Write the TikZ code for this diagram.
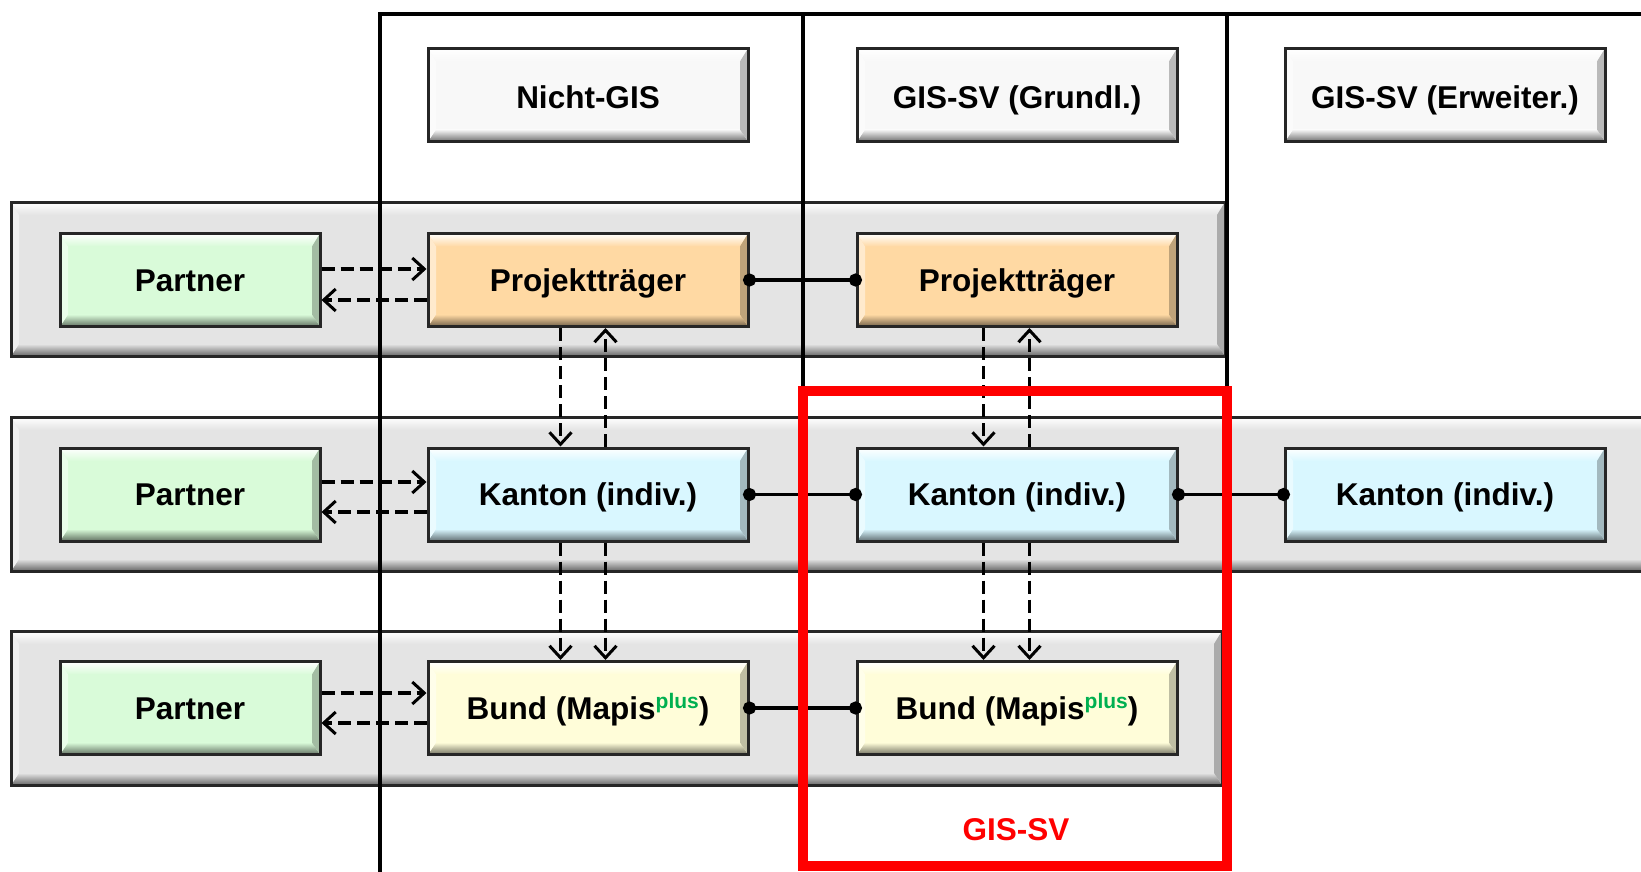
\documentclass[tikz,border=0pt]{standalone}
\usepackage{fontspec}
\setmainfont{Liberation Sans}
\usetikzlibrary{arrows.meta,calc}
\definecolor{hdr}{HTML}{F8F8F8}
\definecolor{bandc}{HTML}{E4E4E4}
\definecolor{partc}{HTML}{D9FBD9}
\definecolor{projc}{HTML}{FFD9A3}
\definecolor{kantc}{HTML}{D9F7FF}
\definecolor{bundc}{HTML}{FFFDD9}
\definecolor{plusg}{HTML}{00B050}
\definecolor{redc}{HTML}{FF0000}
\tikzset{
  bev/.style={fill=#1, draw=black!85, line width=3pt, path picture={
    \coordinate (bSW) at (path picture bounding box.south west);
    \coordinate (bNE) at (path picture bounding box.north east);
    \coordinate (bNW) at (bSW|-bNE);
    \coordinate (bSE) at (bNE|-bSW);
    \shade[top color=white, bottom color=#1] (bNW) -- (bNE) -- ([shift={(-8pt,-13pt)}]bNE) -- ([shift={(8pt,-13pt)}]bNW) -- cycle;
    \shade[top color=#1, bottom color=#1!45!black] (bSW) -- (bSE) -- ([shift={(-8pt,12pt)}]bSE) -- ([shift={(8pt,12pt)}]bSW) -- cycle;
    \fill[#1!55!white] (bSW) -- (bNW) -- ([shift={(8pt,-13pt)}]bNW) -- ([shift={(8pt,12pt)}]bSW) -- cycle;
    \fill[#1!75!black] (bSE) -- (bNE) -- ([shift={(-8pt,-13pt)}]bNE) -- ([shift={(-8pt,12pt)}]bSE) -- cycle;
  }},
  box/.style={bev=#1, minimum width=320pt, minimum height=93pt, inner sep=0pt,
    text height=22.5pt, text depth=0pt,
    font=\bfseries\fontsize{31.5}{36}\selectfont, text=black},
  hbox/.style={box=hdr, text height=27.5pt},
  pbox/.style={box=partc, minimum width=260pt},
  band/.style={bev=bandc, minimum height=154pt, inner sep=0pt},
  colline/.style={line width=4.5pt, black, line cap=rect},
  darr/.style={line width=3.2pt, dash pattern=on 13pt off 6pt, -{Straight Barb[length=12pt,width=22pt,line width=3pt]}},
  dotc/.style={line width=3.5pt, {Circle[length=13pt]}-{Circle[length=13pt]}, shorten <=-6.5pt, shorten >=-6.5pt},
}
\newcommand{\plussup}{\raisebox{11pt}{\fontsize{21}{21}\selectfont\color{plusg}plus}}
\begin{document}
\begin{tikzpicture}[x=1pt,y=1pt]
\useasboundingbox (0,0) rectangle (1641,-872);
% bands
\node[band, minimum width=1214pt] (b1) at (618,-279) {};
\node[band, minimum width=1640pt] (b2) at (831,-494) {};
\node[band, minimum width=1211pt] (b3) at (616.5,-708) {};
% column frame
\draw[colline] (380,-14) -- (1650,-14);
\draw[colline] (380,-14) -- (380,-880);
\draw[colline] (803,-14) -- (803,-391);
\draw[colline] (1227,-14) -- (1227,-391);
% header boxes
\node[hbox] (h1) at (588,-95) {Nicht-GIS};
\node[hbox] (h2) at (1017,-95) {GIS-SV (Grundl.)};
\node[hbox] (h3) at (1445,-95) {GIS-SV (Erweiter.)};
% row 1
\node[pbox] (pa1) at (190,-280) {Partner};
\node[box=projc] (p1) at (588,-280) {Projektträger};
\node[box=projc] (p2) at (1017,-280) {Projektträger};
% row 2
\node[pbox] (pa2) at (190,-494.5) {Partner};
\node[box=kantc] (k1) at (588,-494.5) {Kanton (indiv.)};
\node[box=kantc] (k2) at (1017,-494.5) {Kanton (indiv.)};
\node[box=kantc] (k3) at (1445,-494.5) {Kanton (indiv.)};
% row 3
\node[pbox] (pa3) at (190,-708) {Partner};
\node[box=bundc] (u1) at (588,-708) {Bund (Mapis\plussup)};
\node[box=bundc] (u2) at (1017,-708) {Bund (Mapis\plussup)};
% partner arrows
\draw[darr] ([yshift=11pt]pa1.east) -- ([yshift=11pt]p1.west);
\draw[darr] ([yshift=-20pt]p1.west) -- ([yshift=-20pt]pa1.east);
\draw[darr] ([yshift=12.5pt]pa2.east) -- ([yshift=12.5pt]k1.west);
\draw[darr] ([yshift=-17.5pt]k1.west) -- ([yshift=-17.5pt]pa2.east);
\draw[darr] ([yshift=15pt]pa3.east) -- ([yshift=15pt]u1.west);
\draw[darr] ([yshift=-15pt]u1.west) -- ([yshift=-15pt]pa3.east);
% vertical arrows column 1
\draw[darr] ([xshift=-27.5pt]p1.south) -- ([xshift=-27.5pt]k1.north);
\draw[darr] ([xshift=17.5pt]k1.north) -- ([xshift=17.5pt]p1.south);
\draw[darr] ([xshift=-27.5pt]k1.south) -- ([xshift=-27.5pt]u1.north);
\draw[darr] ([xshift=17.5pt]k1.south) -- ([xshift=17.5pt]u1.north);
% vertical arrows column 2
\draw[darr] ([xshift=-33.5pt]p2.south) -- ([xshift=-33.5pt]k2.north);
\draw[darr] ([xshift=12.5pt]k2.north) -- ([xshift=12.5pt]p2.south);
\draw[darr] ([xshift=-33.5pt]k2.south) -- ([xshift=-33.5pt]u2.north);
\draw[darr] ([xshift=12.5pt]k2.south) -- ([xshift=12.5pt]u2.north);
% solid dot connectors
\draw[dotc] (p1.east) -- (p2.west);
\draw[dotc] (k1.east) -- (k2.west);
\draw[dotc] (k2.east) -- (k3.west);
\draw[dotc] (u1.east) -- (u2.west);
% red frame
\draw[redc, line width=10pt] (803,-391) rectangle (1227,-866);
\node[font=\bfseries\fontsize{31.5}{36}\selectfont, text=redc] (lbl) at (1016,-830) {GIS-SV};
\end{tikzpicture}
\end{document}
